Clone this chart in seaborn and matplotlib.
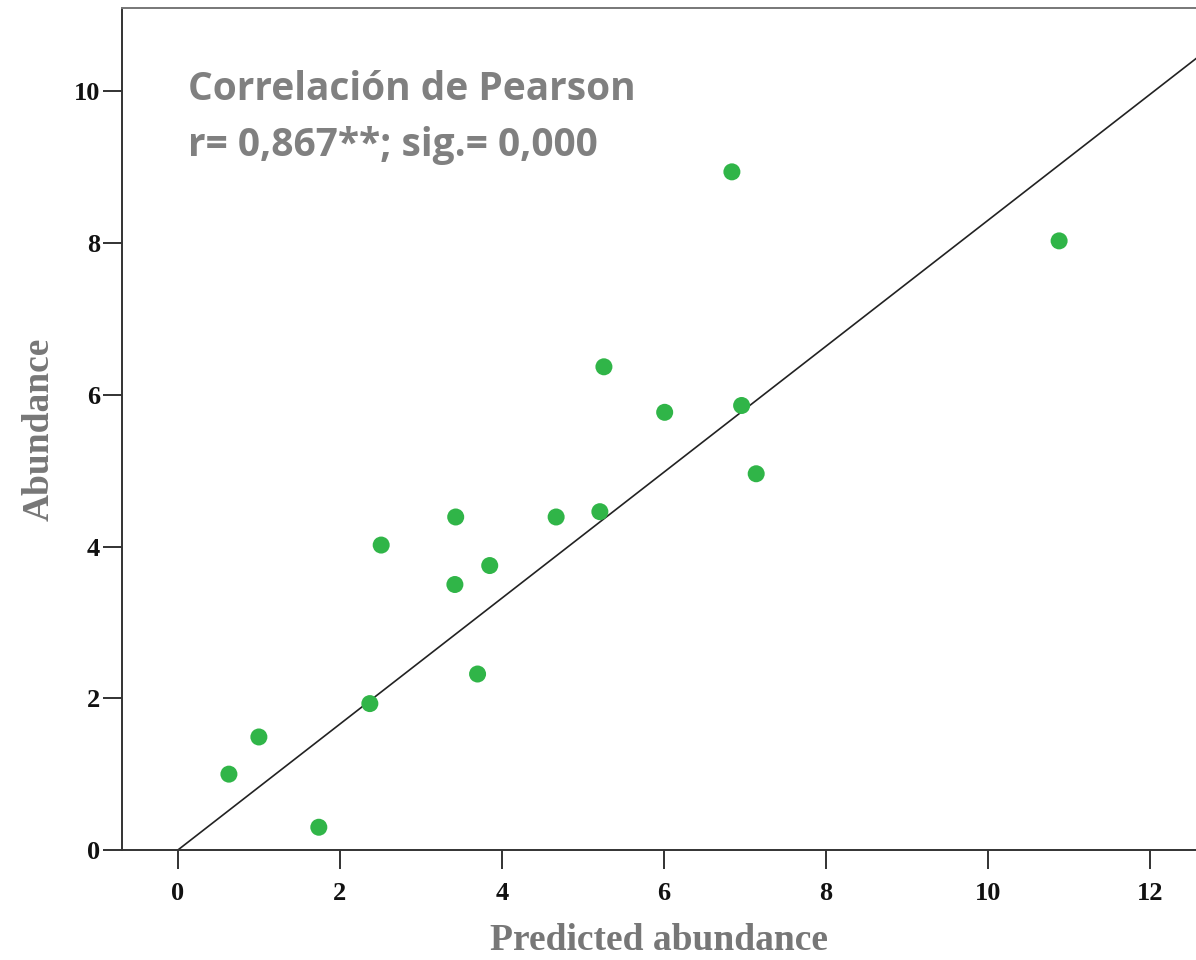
import matplotlib
matplotlib.use("Agg")
import matplotlib.pyplot as plt
import seaborn as sns
import numpy as np
import pandas as pd

# Data
predicted = [0.63, 1.00, 1.74, 2.37, 2.51, 3.42, 3.43, 3.70, 3.85, 4.67,
             5.21, 5.26, 6.01, 6.84, 6.96, 7.14, 10.88]
abundance = [1.00, 1.49, 0.30, 1.93, 4.02, 3.50, 4.39, 2.32, 3.75, 4.39,
             4.46, 6.37, 5.77, 8.94, 5.86, 4.96, 8.03]
line_slope = 0.83
line_x = [0.0, 12.6]
x_ticks = [0, 2, 4, 6, 8, 10, 12]
y_ticks = [0, 2, 4, 6, 8, 10]
annot_lines = ["Correlación de Pearson", "r= 0,867**; sig.= 0,000"]

sns.set_style("ticks")
plt.rcParams['font.family'] = ['DejaVu Sans']

df = pd.DataFrame({"Predicted abundance": predicted, "Abundance": abundance})
line_df = pd.DataFrame({"x": line_x, "y": [line_slope * v for v in line_x]})

fig = plt.figure(figsize=(11.96, 9.6), dpi=100)
ax = fig.add_axes([122 / 1196, 110 / 960, 1 - 122 / 1196, (850 - 8) / 960])

sns.lineplot(data=line_df, x="x", y="y", ax=ax, color="#222222", linewidth=1.2, zorder=2)
sns.scatterplot(data=df, x="Predicted abundance", y="Abundance", ax=ax,
                color="#30b548", s=150, edgecolor="none", zorder=3)

ax.set_xlim(-0.69, 12.57)
ax.set_ylim(0, 11.1)
ax.set_xticks(x_ticks)
ax.set_yticks(y_ticks)

serif = ["Liberation Serif", "DejaVu Serif"]
for lab in ax.get_xticklabels() + ax.get_yticklabels():
    lab.set_fontfamily(serif)
    lab.set_fontweight("bold")
    lab.set_fontsize(19)
    lab.set_color("#111111")

ax.tick_params(axis="both", direction="out", length=14, width=1.3, color="#222222")
ax.tick_params(axis="x", pad=9)
ax.tick_params(axis="y", pad=2)

ax.set_xlabel("Predicted abundance", fontfamily=serif, fontweight="bold",
              fontsize=27, color="#777777", labelpad=13)
ax.set_ylabel("Abundance", fontfamily=serif, fontweight="bold",
              fontsize=27, color="#777777", labelpad=12)

for side in ["left", "bottom", "top"]:
    ax.spines[side].set_visible(True)
    ax.spines[side].set_color("#333333")
    ax.spines[side].set_linewidth(1.4)
ax.spines["top"].set_color("#777777")
ax.spines["right"].set_visible(False)

ax.text(0.0615, 0.926, "\n".join(annot_lines), transform=ax.transAxes,
        ha="left", va="top", fontfamily=["Open Sans", "DejaVu Sans"], fontweight="bold",
        fontsize=28, color="#808080", linespacing=1.55)

fig.savefig("out.png", dpi=100, facecolor="white")
